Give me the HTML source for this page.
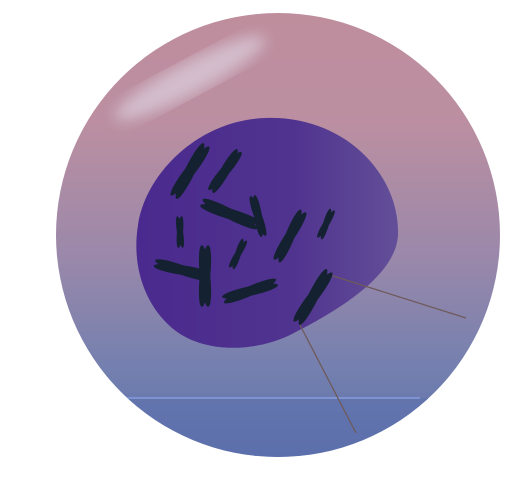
<!DOCTYPE html>
<html><head><meta charset="utf-8"><style>html,body{margin:0;padding:0;background:#fff;width:508px;height:492px;overflow:hidden}</style></head>
<body>
<svg width="508" height="492" viewBox="0 0 508 492">
<defs>
<linearGradient id="cg" x1="0" y1="0" x2="0" y2="1">
<stop offset="0" stop-color="#bf8e9d"/><stop offset="0.25" stop-color="#bb8fa1"/>
<stop offset="0.55" stop-color="#9a88aa"/><stop offset="0.8" stop-color="#7480af"/><stop offset="1" stop-color="#5a6eaa"/>
</linearGradient>
<linearGradient id="ng" x1="0" y1="0" x2="1" y2="0">
<stop offset="0" stop-color="#4a2a8e"/><stop offset="0.6" stop-color="#50338f"/><stop offset="1" stop-color="#634f98"/>
</linearGradient>
<filter id="bl"><feGaussianBlur stdDeviation="7"/></filter>
<clipPath id="cc"><circle cx="278" cy="235" r="222"/></clipPath>
<g id="chL"><ellipse rx="31" ry="5.2" transform="rotate(-6)"/><ellipse rx="31" ry="5.2" transform="rotate(6)"/></g>
<g id="chM"><ellipse rx="25" ry="4.6" transform="rotate(-6)"/><ellipse rx="25" ry="4.6" transform="rotate(6)"/></g>
<g id="chS"><ellipse rx="16" ry="3" transform="rotate(-8)"/><ellipse rx="16" ry="3" transform="rotate(8)"/></g>
</defs>
<circle cx="278" cy="235" r="222" fill="url(#cg)"/>
<g clip-path="url(#cc)">
<rect x="50" y="398" width="460" height="70" fill="#5c70ae" opacity="0.5"/>
<line x1="112" y1="398" x2="420" y2="398" stroke="#7e94d2" stroke-width="2"/>
<ellipse cx="190" cy="78" rx="85" ry="16" transform="rotate(-28 190 78)" fill="#e6e3f2" opacity="0.55" filter="url(#bl)"/>
</g>
<path d="M 265 118 C 345 115 400 175 398 235 C 396 275 340 310 290 335 C 250 354 200 352 172 328 C 142 302 132 262 138 225 C 146 172 200 120 265 118 Z" fill="url(#ng)"/>
<line x1="330" y1="275" x2="466" y2="318" stroke="#6e5a5a" stroke-width="1.3"/>
<line x1="300" y1="325" x2="356" y2="433" stroke="#6e5a5a" stroke-width="1.3"/>
<g fill="#142131">
<use href="#chL" transform="translate(190 171) rotate(-58)"/>
<use href="#chM" transform="translate(225 171) rotate(-55)"/>
<use href="#chL" transform="translate(230 214) rotate(22)"/>
<use href="#chM" transform="translate(258 216) rotate(75) scale(0.85)"/>
<use href="#chS" transform="translate(180 232) rotate(88)"/>
<use href="#chL" transform="translate(290 236) rotate(-62) scale(0.92)"/>
<use href="#chS" transform="translate(326 224) rotate(-66)"/>
<use href="#chS" transform="translate(238 254) rotate(-65)"/>
<use href="#chL" transform="translate(182 270) rotate(14) scale(0.92)"/>
<use href="#chL" transform="translate(205 276) rotate(90)"/>
<use href="#chL" transform="translate(250 291) rotate(-18) scale(0.92)"/>
<use href="#chL" transform="translate(313 297) rotate(-58)"/>
</g>
</svg>
</body></html>
